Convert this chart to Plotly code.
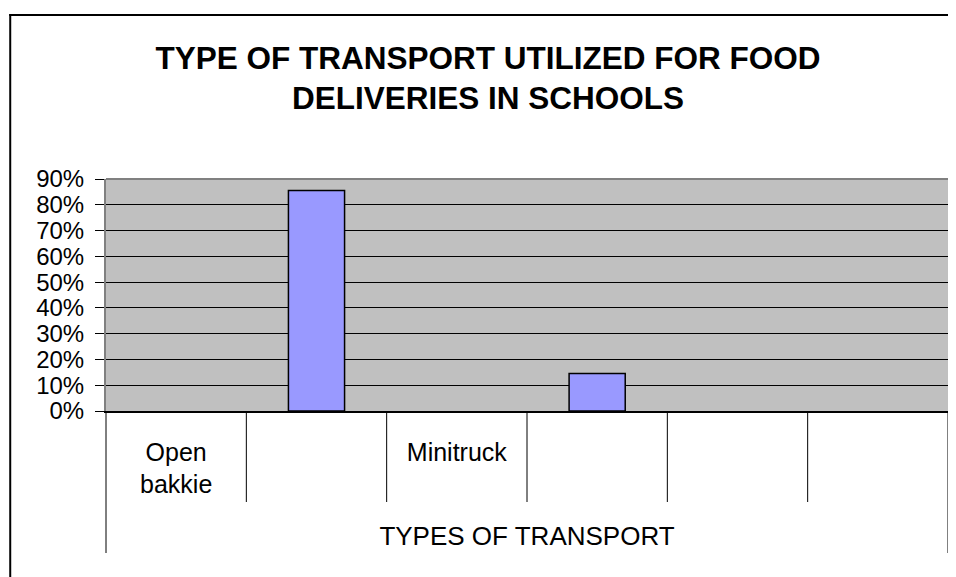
import plotly.graph_objects as go

# ---- data ----
positions = [0, 1, 2, 3, 4, 5]
category_labels = ["Open<br>bakkie", "", "Minitruck", "", "", ""]
bar_positions = [1, 3]
bar_values = [0.855, 0.145]
y_ticks = [0.0, 0.1, 0.2, 0.3, 0.4, 0.5, 0.6, 0.7, 0.8, 0.9]
title_text = "TYPE OF TRANSPORT UTILIZED FOR FOOD<br>DELIVERIES IN SCHOOLS"
x_title = "TYPES OF TRANSPORT"

# ---- layout geometry (page body has an 8px margin, so figure is 8px smaller) ----
OFF = 8
W, H = 956 - OFF, 577 - OFF
ML, MR, MT, MB = 106 - OFF, 6, 179 - OFF, 166
PW, PH = W - ML - MR, H - MT - MB

def px_x(px):
    return (px - OFF - ML) / PW

def px_y(py):
    return (H - MB - (py - OFF)) / PH

FONT = "Liberation Sans, Arial, sans-serif"

fig = go.Figure()
fig.add_trace(go.Bar(
    x=bar_positions, y=bar_values, width=0.4,
    marker=dict(color="#9999FF", line=dict(color="black", width=1.5)),
    showlegend=False, hoverinfo="skip",
))

shapes = []
# category separators (inner boundaries)
for k in range(len(positions) - 1):
    shapes.append(dict(type="line", xref="x", yref="paper",
                       x0=positions[k] + 0.5, x1=positions[k] + 0.5,
                       y0=0, y1=px_y(502), line=dict(color="black", width=1)))
# outer boundaries extend further
for xd in (0, 1):
    shapes.append(dict(type="line", xref="x domain", yref="paper",
                       x0=xd, x1=xd, y0=0, y1=px_y(553),
                       line=dict(color="black", width=1)))
# top of plot area (gray)
shapes.append(dict(type="line", xref="x domain", yref="y domain",
                   x0=0, x1=1, y0=1, y1=1, line=dict(color="#808080", width=2)))
# outer chart border: left and top
shapes.append(dict(type="line", xref="paper", yref="paper",
                   x0=px_x(10), x1=px_x(10), y0=px_y(14), y1=px_y(600),
                   line=dict(color="black", width=2)))
shapes.append(dict(type="line", xref="paper", yref="paper",
                   x0=px_x(9), x1=px_x(980), y0=px_y(15), y1=px_y(15),
                   line=dict(color="black", width=2)))

fig.update_layout(
    width=W, height=H,
    margin=dict(l=ML, r=MR, t=MT, b=MB),
    paper_bgcolor="white", plot_bgcolor="#C0C0C0",
    font=dict(family=FONT, color="black", size=24),
    title=dict(text="<b>" + title_text + "</b>",
               xref="container", x=(488 - OFF) / W, xanchor="center",
               yref="container", y=1 - (68.5 - OFF) / H, yanchor="middle",
               font=dict(family=FONT, size=31.5, color="black")),
    shapes=shapes,
)
fig.update_xaxes(
    range=[-0.5, 5.5], tickvals=positions, ticktext=category_labels,
    showgrid=False, zeroline=False, showline=True, linecolor="black", linewidth=1.5,
    ticks="", ticklabelstandoff=18, tickfont=dict(size=25),
    title=dict(text=x_title, font=dict(size=26), standoff=30),
)
fig.update_yaxes(
    range=[0, 0.9], tickvals=y_ticks, tickformat=".0%",
    showgrid=True, gridcolor="black", gridwidth=1, zeroline=False,
    showline=True, linecolor="#808080", linewidth=2, mirror=True,
    ticks="outside", ticklen=9, tickcolor="black", ticklabelstandoff=6,
    tickfont=dict(size=24),
)

fig.write_html("out.html")
